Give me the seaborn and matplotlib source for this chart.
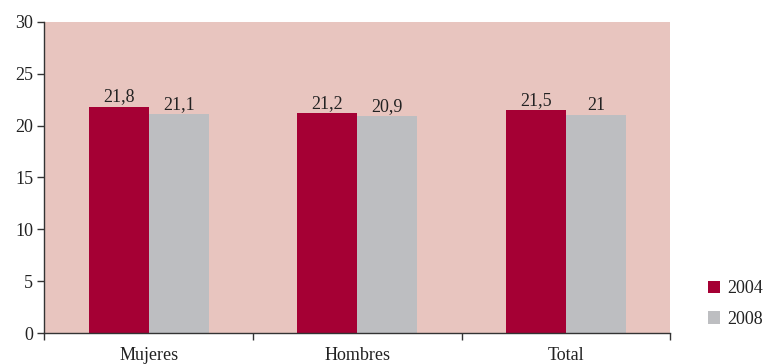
import matplotlib
matplotlib.use("Agg")
import matplotlib.pyplot as plt
import seaborn as sns
import pandas as pd
from matplotlib.patches import Patch

categories = ["Mujeres", "Hombres", "Total"]
years = ["2004", "2008"]
values_2004 = [21.8, 21.2, 21.5]
values_2008 = [21.1, 20.9, 21.0]
labels_2004 = ["21,8", "21,2", "21,5"]
labels_2008 = ["21,1", "20,9", "21"]

df = pd.DataFrame({
    "cat": categories * 2,
    "year": [years[0]] * 3 + [years[1]] * 3,
    "val": values_2004 + values_2008,
})

sns.set_theme(style="white")
plt.rcParams["font.family"] = ["Liberation Serif", "DejaVu Serif"]

colors = {"2004": "#A50034", "2008": "#BDBEC1"}
fig = plt.figure(figsize=(7.66, 3.64), dpi=100)
ax = fig.add_axes([0.058, 0.085, 0.817, 0.855])
ax.set_facecolor("#E8C5BF")
sns.barplot(data=df, x="cat", y="val", hue="year", palette=colors,
            width=0.575, saturation=1, ax=ax, legend=False, linewidth=0)

for cont, labs in zip(ax.containers, [labels_2004, labels_2008]):
    ax.bar_label(cont, labels=labs, padding=1, fontsize=13, color="#222222")

ax.set_ylim(0, 30)
ax.set_xlim(-0.5, 2.5)
ax.set_yticks(range(0, 31, 5))
ax.set_xlabel("")
ax.set_ylabel("")
ax.tick_params(axis="y", left=True, length=5, width=1, color="#333333",
               labelsize=13, labelcolor="#222222", pad=3)
ax.tick_params(axis="x", bottom=True, length=0, labelsize=13,
               labelcolor="#222222", pad=10)
ax.set_xticks([-0.5, 0.5, 1.5, 2.5], minor=True)
ax.tick_params(axis="x", which="minor", bottom=True, length=5, width=1, color="#333333")
for s in ["top", "right"]:
    ax.spines[s].set_visible(False)
for s in ["left", "bottom"]:
    ax.spines[s].set_color("#333333")
    ax.spines[s].set_linewidth(1)

handles = [Patch(facecolor=colors[y], edgecolor="none", label=y) for y in years]
fig.legend(handles=handles, loc="center left", bbox_to_anchor=(0.924, 0.165),
           frameon=False, fontsize=13, handlelength=0.7, handleheight=0.7,
           handletextpad=0.4, labelspacing=0.75, labelcolor="#222222",
           borderaxespad=0, borderpad=0)

fig.savefig("out.png", dpi=100)
